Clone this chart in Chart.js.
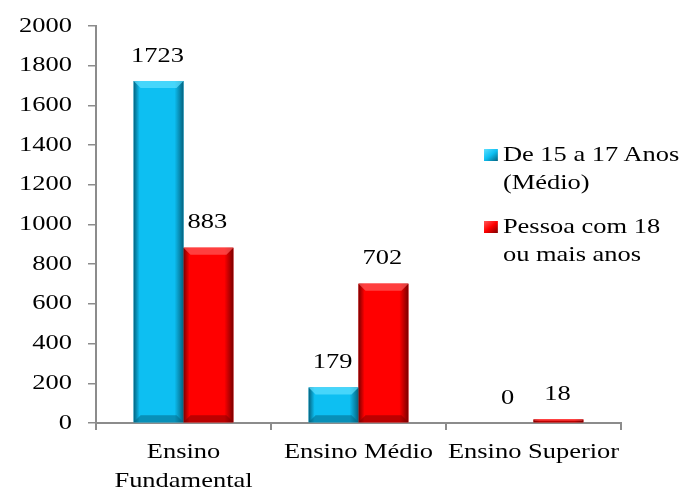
<!DOCTYPE html>
<html>
<head>
<meta charset="utf-8">
<script src="https://cdn.jsdelivr.net/npm/chart.js@4"></script>
<style>
    body { margin: 0; background: #fff; }
    #wrap { position: relative; width: 683px; height: 494px; }
    #legend { position: absolute; left: 484px; top: 140px; font-family: 'Liberation Serif', serif; font-size: 21px; color: #000; line-height: 28px; white-space: nowrap; transform: scaleX(1.26); transform-origin: 0 0; }
    .item { position: relative; padding-left: 15px; margin-bottom: 16px; }
    .sw { position: absolute; left: 0; top: 9px; width: 11px; height: 12px; }
</style>
</head>
<body>
<div id="wrap">
    <canvas id="chart" width="683" height="494"></canvas>
    <div id="legend"></div>
</div>
<script>
const categories = [['Ensino', 'Fundamental'], 'Ensino Médio', 'Ensino Superior'];
const seriesNames = [['De 15 a 17 Anos', '(Médio)'], ['Pessoa com 18', 'ou mais anos']];
const jovens = [1723, 179, 0];
const adultos = [883, 702, 18];
const yTicks = [0, 200, 400, 600, 800, 1000, 1200, 1400, 1600, 1800, 2000];

const FONT = '21px "Liberation Serif", serif';
const STRETCH = 1.26; // the original text is drawn wide

// colours for each series: main, light (top bevel), dark (edges)
const palette = [
    { main: '#0DBFF2', light: '#5FE0FF', dark: '#04627E' },
    { main: '#FF0000', light: '#FF5A5A', dark: '#7A0000' }
];

function wideText(ctx, text, x, y, align) {
    ctx.save();
    ctx.translate(x, y);
    ctx.scale(STRETCH, 1);
    ctx.fillStyle = '#000';
    ctx.font = FONT;
    ctx.textAlign = align;
    ctx.textBaseline = 'middle';
    ctx.fillText(text, 0, 0);
    ctx.restore();
}

// draws the bevelled look and the value labels on top of each bar
const bevelPlugin = {
    id: 'bevel',
    afterDatasetsDraw(chart) {
        const ctx = chart.ctx;
        chart.data.datasets.forEach((ds, i) => {
            const meta = chart.getDatasetMeta(i);
            const col = palette[i];
            meta.data.forEach((bar, j) => {
                const left = bar.x - bar.width / 2;
                const right = bar.x + bar.width / 2;
                const top = bar.y;
                const base = bar.base;
                const h = base - top;
                if (h > 1) {
                    ctx.save();
                    const g = ctx.createLinearGradient(left, 0, right, 0);
                    g.addColorStop(0, col.dark);
                    g.addColorStop(0.12, col.main);
                    g.addColorStop(0.82, col.main);
                    g.addColorStop(1, col.dark);
                    ctx.fillStyle = g;
                    ctx.fillRect(left, top, right - left, h);
                    const b = Math.min(7, h / 2);
                    // top bevel
                    ctx.fillStyle = col.light;
                    ctx.globalAlpha = 0.7;
                    ctx.beginPath();
                    ctx.moveTo(left, top);
                    ctx.lineTo(right, top);
                    ctx.lineTo(right - b, top + b);
                    ctx.lineTo(left + b, top + b);
                    ctx.closePath();
                    ctx.fill();
                    // bottom bevel
                    ctx.fillStyle = col.dark;
                    ctx.globalAlpha = 0.5;
                    ctx.beginPath();
                    ctx.moveTo(left, base);
                    ctx.lineTo(right, base);
                    ctx.lineTo(right - b, base - b);
                    ctx.lineTo(left + b, base - b);
                    ctx.closePath();
                    ctx.fill();
                    ctx.restore();
                }
                wideText(ctx, String(ds.data[j]), bar.x - 1, top - 25, 'center');
            });
        });
    },
    // axis labels, drawn stretched at the positions the scales give
    afterDraw(chart) {
        const ctx = chart.ctx;
        const xs = chart.scales.x;
        const ys = chart.scales.y;
        yTicks.forEach(v => {
            wideText(ctx, String(v), ys.right - 24, ys.getPixelForValue(v), 'right');
        });
        categories.forEach((c, i) => {
            const lines = Array.isArray(c) ? c : [c];
            const x = xs.getPixelForValue(i);
            lines.forEach((t, k) => wideText(ctx, t, x, xs.top + 29 + k * 29, 'center'));
        });
    }
};

const ctx = document.getElementById('chart').getContext('2d');
new Chart(ctx, {
    type: 'bar',
    data: {
        labels: categories,
        datasets: [
            { label: 'De 15 a 17 Anos (Médio)', data: jovens, backgroundColor: palette[0].main },
            { label: 'Pessoa com 18 ou mais anos', data: adultos, backgroundColor: palette[1].main }
        ]
    },
    options: {
        responsive: false,
        animation: false,
        layout: { padding: { left: 0, right: 62, top: 26, bottom: 2 } },
        datasets: { bar: { categoryPercentage: 0.57, barPercentage: 1 } },
        plugins: { legend: { display: false }, tooltip: { enabled: false } },
        scales: {
            x: {
                grid: { display: true, offset: true, drawOnChartArea: false, drawTicks: true, tickLength: 7, color: '#8c8c8c', lineWidth: 2 },
                border: { color: '#8c8c8c', width: 2 },
                ticks: { color: 'rgba(0,0,0,0)', font: { family: 'Liberation Serif', size: 21 }, maxRotation: 0 },
                afterFit: (scale) => { scale.height = 69; }
            },
            y: {
                min: 0,
                max: 2000,
                afterBuildTicks: (axis) => { axis.ticks = yTicks.map(v => ({ value: v })); },
                grid: { drawOnChartArea: false, drawTicks: true, tickLength: 8, color: '#8c8c8c', lineWidth: 1.5 },
                border: { color: '#8c8c8c', width: 2 },
                ticks: { color: 'rgba(0,0,0,0)', font: { family: 'Liberation Serif', size: 21 }, callback: (v) => String(v) },
                afterFit: (scale) => { scale.width = 96; }
            }
        }
    },
    plugins: [bevelPlugin]
});

// legend built from the series names
const legend = document.getElementById('legend');
seriesNames.forEach((lines, i) => {
    const item = document.createElement('div');
    item.className = 'item';
    const sw = document.createElement('span');
    sw.className = 'sw';
    sw.style.background = `linear-gradient(135deg, ${palette[i].light}, ${palette[i].main} 50%, ${palette[i].dark})`;
    item.appendChild(sw);
    lines.forEach(t => {
        const d = document.createElement('div');
        d.textContent = t;
        item.appendChild(d);
    });
    legend.appendChild(item);
});
</script>
</body>
</html>
